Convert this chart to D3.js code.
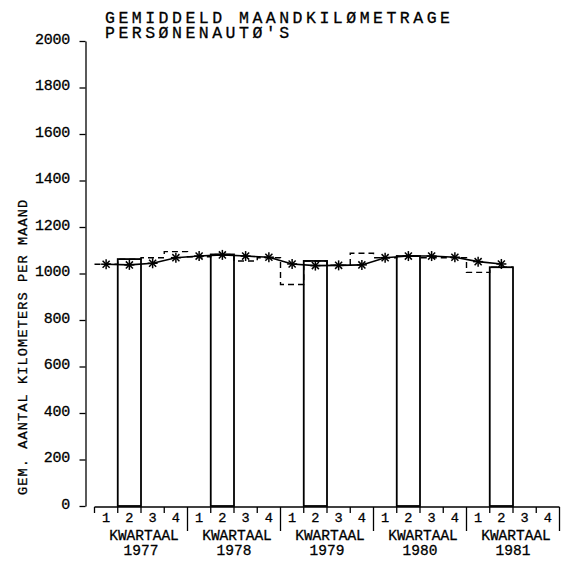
<!DOCTYPE html>
<html>
<head>
	<title>Gemiddeld maandkilometrage</title>
	<style type="text/css">
		body {
			margin: 0;
			background: #fff;
		}

		svg text {
			font-family: "Liberation Mono", "DejaVu Sans Mono", monospace;
			fill: #000;
			stroke: #000;
			stroke-width: 0.3;
		}

		.title {
			font-size: 16.5px;
			letter-spacing: 3.5px;
		}

		.axis-title {
			font-size: 13.6px;
			letter-spacing: 1.1px;
		}

		.y-axis text {
			font-size: 15px;
			letter-spacing: -0.25px;
		}

		.y-axis line, .y-axis path, .x-axis line, .x-axis path {
			stroke: #000;
			stroke-width: 1.3;
		}

		.q-label {
			font-size: 13.6px;
		}

		.year-label {
			font-size: 14.5px;
		}

		.bar {
			fill: none;
			stroke: #000;
			stroke-width: 1.8;
		}

		.step {
			fill: none;
			stroke: #000;
			stroke-width: 1.4;
			stroke-dasharray: 6, 4;
		}

		.avg {
			fill: none;
			stroke: #000;
			stroke-width: 1.6;
		}

		.star line {
			stroke: #000;
			stroke-width: 1.5;
		}
	</style>
</head>
<body>
	<div id="chart"></div>
	<script src="https://cdn.jsdelivr.net/npm/d3@7"></script>
	<script type="text/javascript">
		// data
		var years = ["1977", "1978", "1979", "1980", "1981"];
		var quarters = ["1", "2", "3", "4"];
		var yTicks = [0, 200, 400, 600, 800, 1000, 1200, 1400, 1600, 1800, 2000];

		// quarterly values (dashed step), 1977 Q1 .. 1981 Q2
		var quarterValues = [1040, 1062, 1068, 1094,
		                     1072, 1082, 1054, 1068,
		                     953, 1054, 1036, 1087,
		                     1068, 1075, 1068, 1068,
		                     1005, 1027];

		// averaged values (line with stars)
		var avgValues = [1040, 1037, 1044, 1068,
		                 1075, 1080, 1075, 1070,
		                 1041, 1034, 1035, 1037,
		                 1068, 1075, 1075, 1070,
		                 1051, 1041];

		// second quarter of each year drawn as a bar
		var barValues = [1062, 1082, 1054, 1075, 1027];

		var titleLines = ["GEMIDDELD MAANDKILØMETRAGE", "PERSØNENAUTØ'S"];
		var yTitle = "GEM. AANTAL KILOMETERS PER MAAND";
		var groupLabel = "KWARTAAL";

		var width = 566,
			height = 573;

		var svg = d3.select("#chart")
			.append("svg")
			.attr("width", width)
			.attr("height", height);

		var slots = [];
		years.forEach(function(y) {
			quarters.forEach(function(q) { slots.push(y + "-" + q); });
		});

		var x = d3.scaleBand().domain(slots).range([94.5, 559.5]).padding(0),
			xYear = d3.scaleBand().domain(years).range([94.5, 559.5]).padding(0),
			y = d3.scaleLinear().domain([0, 2000]).range([506, 41]);

		// title, two lines in one text block
		svg.append("text")
			.attr("class", "title")
			.attr("y", 22.7)
			.selectAll("tspan")
			.data(titleLines)
			.enter()
			.append("tspan")
			.attr("x", 105)
			.attr("dy", function(d, i) { return i === 0 ? 0 : 15.6; })
			.text(function(d) { return d; });

		// y axis
		var yAxis = svg.append("g")
			.attr("class", "y-axis")
			.attr("transform", "translate(85.5,0)")
			.call(d3.axisLeft(y).tickValues(yTicks).tickSize(6).tickSizeOuter(0).tickPadding(9.5).tickFormat(d3.format("d")));
		yAxis.selectAll("text").attr("dy", "0.15em");

		svg.append("text")
			.attr("class", "axis-title")
			.attr("transform", "translate(26.5,495) rotate(-90)")
			.text(yTitle);

		// x axis: baseline and quarter / year ticks
		var xAxis = svg.append("g").attr("class", "x-axis");
		xAxis.append("path")
			.attr("d", "M" + x.range()[0] + "," + (y(0) + 1) + "H" + x.range()[1]);

		var bounds = slots.map(function(s) { return x(s); }).concat([x.range()[1]]);
		xAxis.selectAll("line.tick")
			.data(bounds)
			.enter()
			.append("line")
			.attr("class", "tick")
			.attr("x1", function(d) { return d; })
			.attr("x2", function(d) { return d; })
			.attr("y1", y(0) + 1)
			.attr("y2", function(d, i) {
				return (i > 0 && i % 4 === 0) ? y(0) + 25 : y(0) + 7;
			});

		xAxis.selectAll("text.q-label")
			.data(slots)
			.enter()
			.append("text")
			.attr("class", "q-label")
			.attr("text-anchor", "middle")
			.attr("x", function(d) { return x(d) + x.bandwidth() / 2; })
			.attr("y", y(0) + 15.5)
			.text(function(d) { return d.split("-")[1]; });

		xAxis.selectAll("text.group-label")
			.data(years)
			.enter()
			.append("text")
			.attr("class", "year-label group-label")
			.attr("text-anchor", "middle")
			.attr("x", function(d) { return xYear(d) + xYear.bandwidth() / 2 + 3; })
			.attr("y", y(0) + 33.5)
			.text(groupLabel);

		xAxis.selectAll("text.year-num")
			.data(years)
			.enter()
			.append("text")
			.attr("class", "year-label year-num")
			.attr("text-anchor", "middle")
			.attr("x", function(d) { return xYear(d) + xYear.bandwidth() / 2; })
			.attr("y", y(0) + 48.5)
			.text(function(d) { return d; });

		// bars for the second quarter
		svg.selectAll("rect.bar")
			.data(barValues)
			.enter()
			.append("rect")
			.attr("class", "bar")
			.attr("x", function(d, i) { return x(years[i] + "-2"); })
			.attr("width", x.bandwidth())
			.attr("y", function(d) { return y(d); })
			.attr("height", function(d) { return y(0) - y(d); });

		// dashed step line of the quarterly values
		var stepPts = [];
		quarterValues.forEach(function(v, i) {
			stepPts.push([x(slots[i]), y(v)]);
			stepPts.push([x(slots[i]) + x.bandwidth(), y(v)]);
		});
		svg.append("path")
			.attr("class", "step")
			.attr("d", d3.line()(stepPts));

		// averaged line with asterisks
		var avgPts = avgValues.map(function(v, i) {
			return [x(slots[i]) + x.bandwidth() / 2, y(v)];
		});
		svg.append("path")
			.attr("class", "avg")
			.attr("d", d3.line()(avgPts));

		var r = 5;
		var spokes = [0, 45, 90, 135];
		var stars = svg.selectAll("g.star")
			.data(avgPts)
			.enter()
			.append("g")
			.attr("class", "star")
			.attr("transform", function(d) { return "translate(" + d[0] + "," + d[1] + ")"; });
		stars.selectAll("line")
			.data(spokes)
			.enter()
			.append("line")
			.attr("x1", function(a) { return -r * Math.cos(a * Math.PI / 180); })
			.attr("y1", function(a) { return -r * Math.sin(a * Math.PI / 180); })
			.attr("x2", function(a) { return r * Math.cos(a * Math.PI / 180); })
			.attr("y2", function(a) { return r * Math.sin(a * Math.PI / 180); });
	</script>
</body>
</html>
